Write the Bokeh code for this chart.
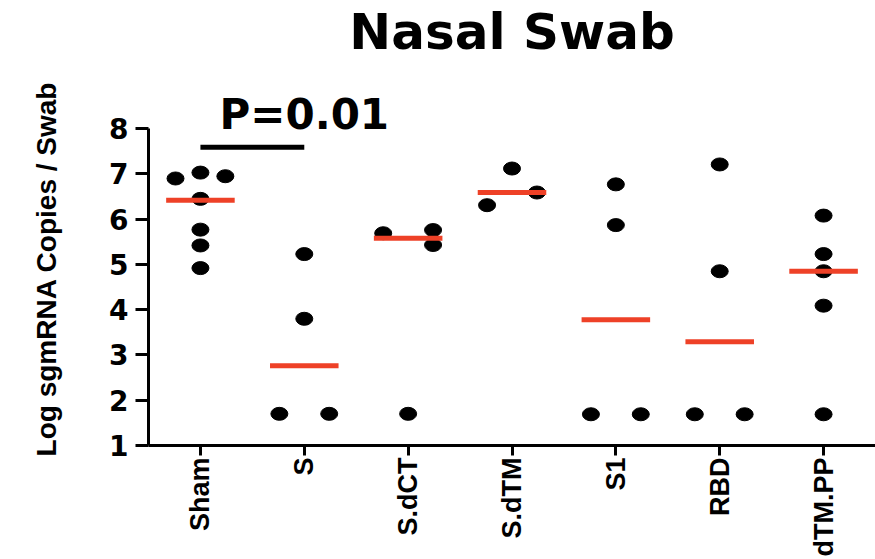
from bokeh.plotting import figure
from bokeh.models import FactorRange, Range1d, FixedTicker, Title
from bokeh.embed import file_html
from bokeh.resources import INLINE
import math

# ---- data ----
groups = ["Sham", "S", "S.dCT", "S.dTM", "S1", "RBD", "dTM.PP"]

sham_vals = [6.90, 7.03, 6.95, 6.45, 5.77, 5.42, 4.92]
s_vals = [1.70, 1.70, 5.23, 3.80]
sdct_vals = [5.69, 5.76, 5.43, 1.70]
sdtm_vals = [6.31, 7.12, 6.59]
s1_vals = [6.77, 5.87, 1.69, 1.69]
rbd_vals = [7.21, 4.85, 1.69, 1.69]
dtmpp_vals = [6.08, 5.23, 4.85, 4.09, 1.69]

# horizontal scatter offsets (fraction of a category) used by the plot to separate ties
sham_jit = [-0.24, 0.0, 0.24, 0.0, 0.0, 0.0, 0.0]
s_jit = [-0.24, 0.24, 0.0, 0.0]
sdct_jit = [-0.24, 0.24, 0.24, 0.0]
sdtm_jit = [-0.24, 0.0, 0.24]
s1_jit = [0.0, 0.0, -0.24, 0.24]
rbd_jit = [0.0, 0.0, -0.24, 0.24]
dtmpp_jit = [0.0, 0.0, 0.0, 0.0, 0.0]

medians = [6.42, 2.76, 5.58, 6.59, 3.78, 3.29, 4.85]

y_ticks = [1, 2, 3, 4, 5, 6, 7, 8]
title_text = "Nasal Swab"
y_label = "Log sgmRNA Copies / Swab"
p_text = "P=0.01"
p_pair = ["Sham", "S"]
p_bar_y = 7.59
p_text_y = 8.31

all_vals = [sham_vals, s_vals, sdct_vals, sdtm_vals, s1_vals, rbd_vals, dtmpp_vals]
all_jit = [sham_jit, s_jit, sdct_jit, sdtm_jit, s1_jit, rbd_jit, dtmpp_jit]

# ---- figure ----
p = figure(width=875, height=559, output_backend="svg", toolbar_location=None, title=None,
           x_range=FactorRange(*groups, range_padding=0),
           y_range=Range1d(1, 8.8),
           min_border_left=148, min_border_right=0, min_border_top=0, min_border_bottom=111)
p.outline_line_color = None
p.xgrid.visible = False
p.ygrid.visible = False
p.background_fill_color = "white"
p.border_fill_color = "white"

# spacer between plot area and title, then the title itself (outermost)
p.add_layout(Title(text=" ", text_font_size="27px", standoff=0), "above")
p.add_layout(Title(text=title_text, align="center", text_font="DejaVu Sans",
                   text_font_style="bold", text_font_size="50px", text_color="black",
                   standoff=0, offset=10), "above")

# points
xs, ys = [], []
for i, (vals, jit) in enumerate(zip(all_vals, all_jit)):
    for v, j in zip(vals, jit):
        xs.append(i + 0.5 + j)
        ys.append(v)
p.ellipse(x=xs, y=ys, width=17, height=13, width_units="screen", height_units="screen",
          fill_color="black", line_color="black")

# median lines
mx0 = [i + 0.5 - 0.33 for i in range(len(groups))]
mx1 = [i + 0.5 + 0.33 for i in range(len(groups))]
p.segment(x0=mx0, x1=mx1, y0=medians, y1=medians, line_color="#ee4127", line_width=5)

# significance bar
p.segment(x0=[p_pair[0]], x1=[p_pair[1]], y0=[p_bar_y], y1=[p_bar_y],
          line_color="black", line_width=5)
p.text(x=[p_pair[1]], y=[p_text_y], text=[p_text], text_align="center",
       text_baseline="alphabetic", text_font_size="42px", text_font_style="bold",
       text_font={"value": "DejaVu Sans"}, text_color="black")

# axes
ya = p.yaxis[0]
ya.bounds = (1, 8)
ya.ticker = FixedTicker(ticks=y_ticks)
ya.minor_tick_line_color = None
ya.major_tick_out = 13
ya.major_tick_in = 0
ya.major_tick_line_width = 3
ya.axis_line_width = 3
ya.major_label_standoff = 7
ya.major_label_text_font = "DejaVu Sans"
ya.major_label_text_font_style = "bold"
ya.major_label_text_font_size = "28px"
ya.major_label_text_color = "black"
ya.axis_label = y_label
ya.axis_label_text_font = "Liberation Sans"
ya.axis_label_text_font_style = "bold"
ya.axis_label_text_font_size = "28px"
ya.axis_label_text_color = "black"
ya.axis_label_standoff = 44

xa = p.xaxis[0]
xa.major_tick_out = 10
xa.major_tick_in = 0
xa.major_tick_line_width = 3
xa.axis_line_width = 3
xa.major_label_orientation = math.pi / 2
xa.major_label_standoff = 2
xa.major_label_text_font = "Liberation Sans"
xa.major_label_text_font_style = "bold"
xa.major_label_text_font_size = "27px"
xa.major_label_text_color = "black"

open("out.html", "w").write(file_html(p, INLINE))
